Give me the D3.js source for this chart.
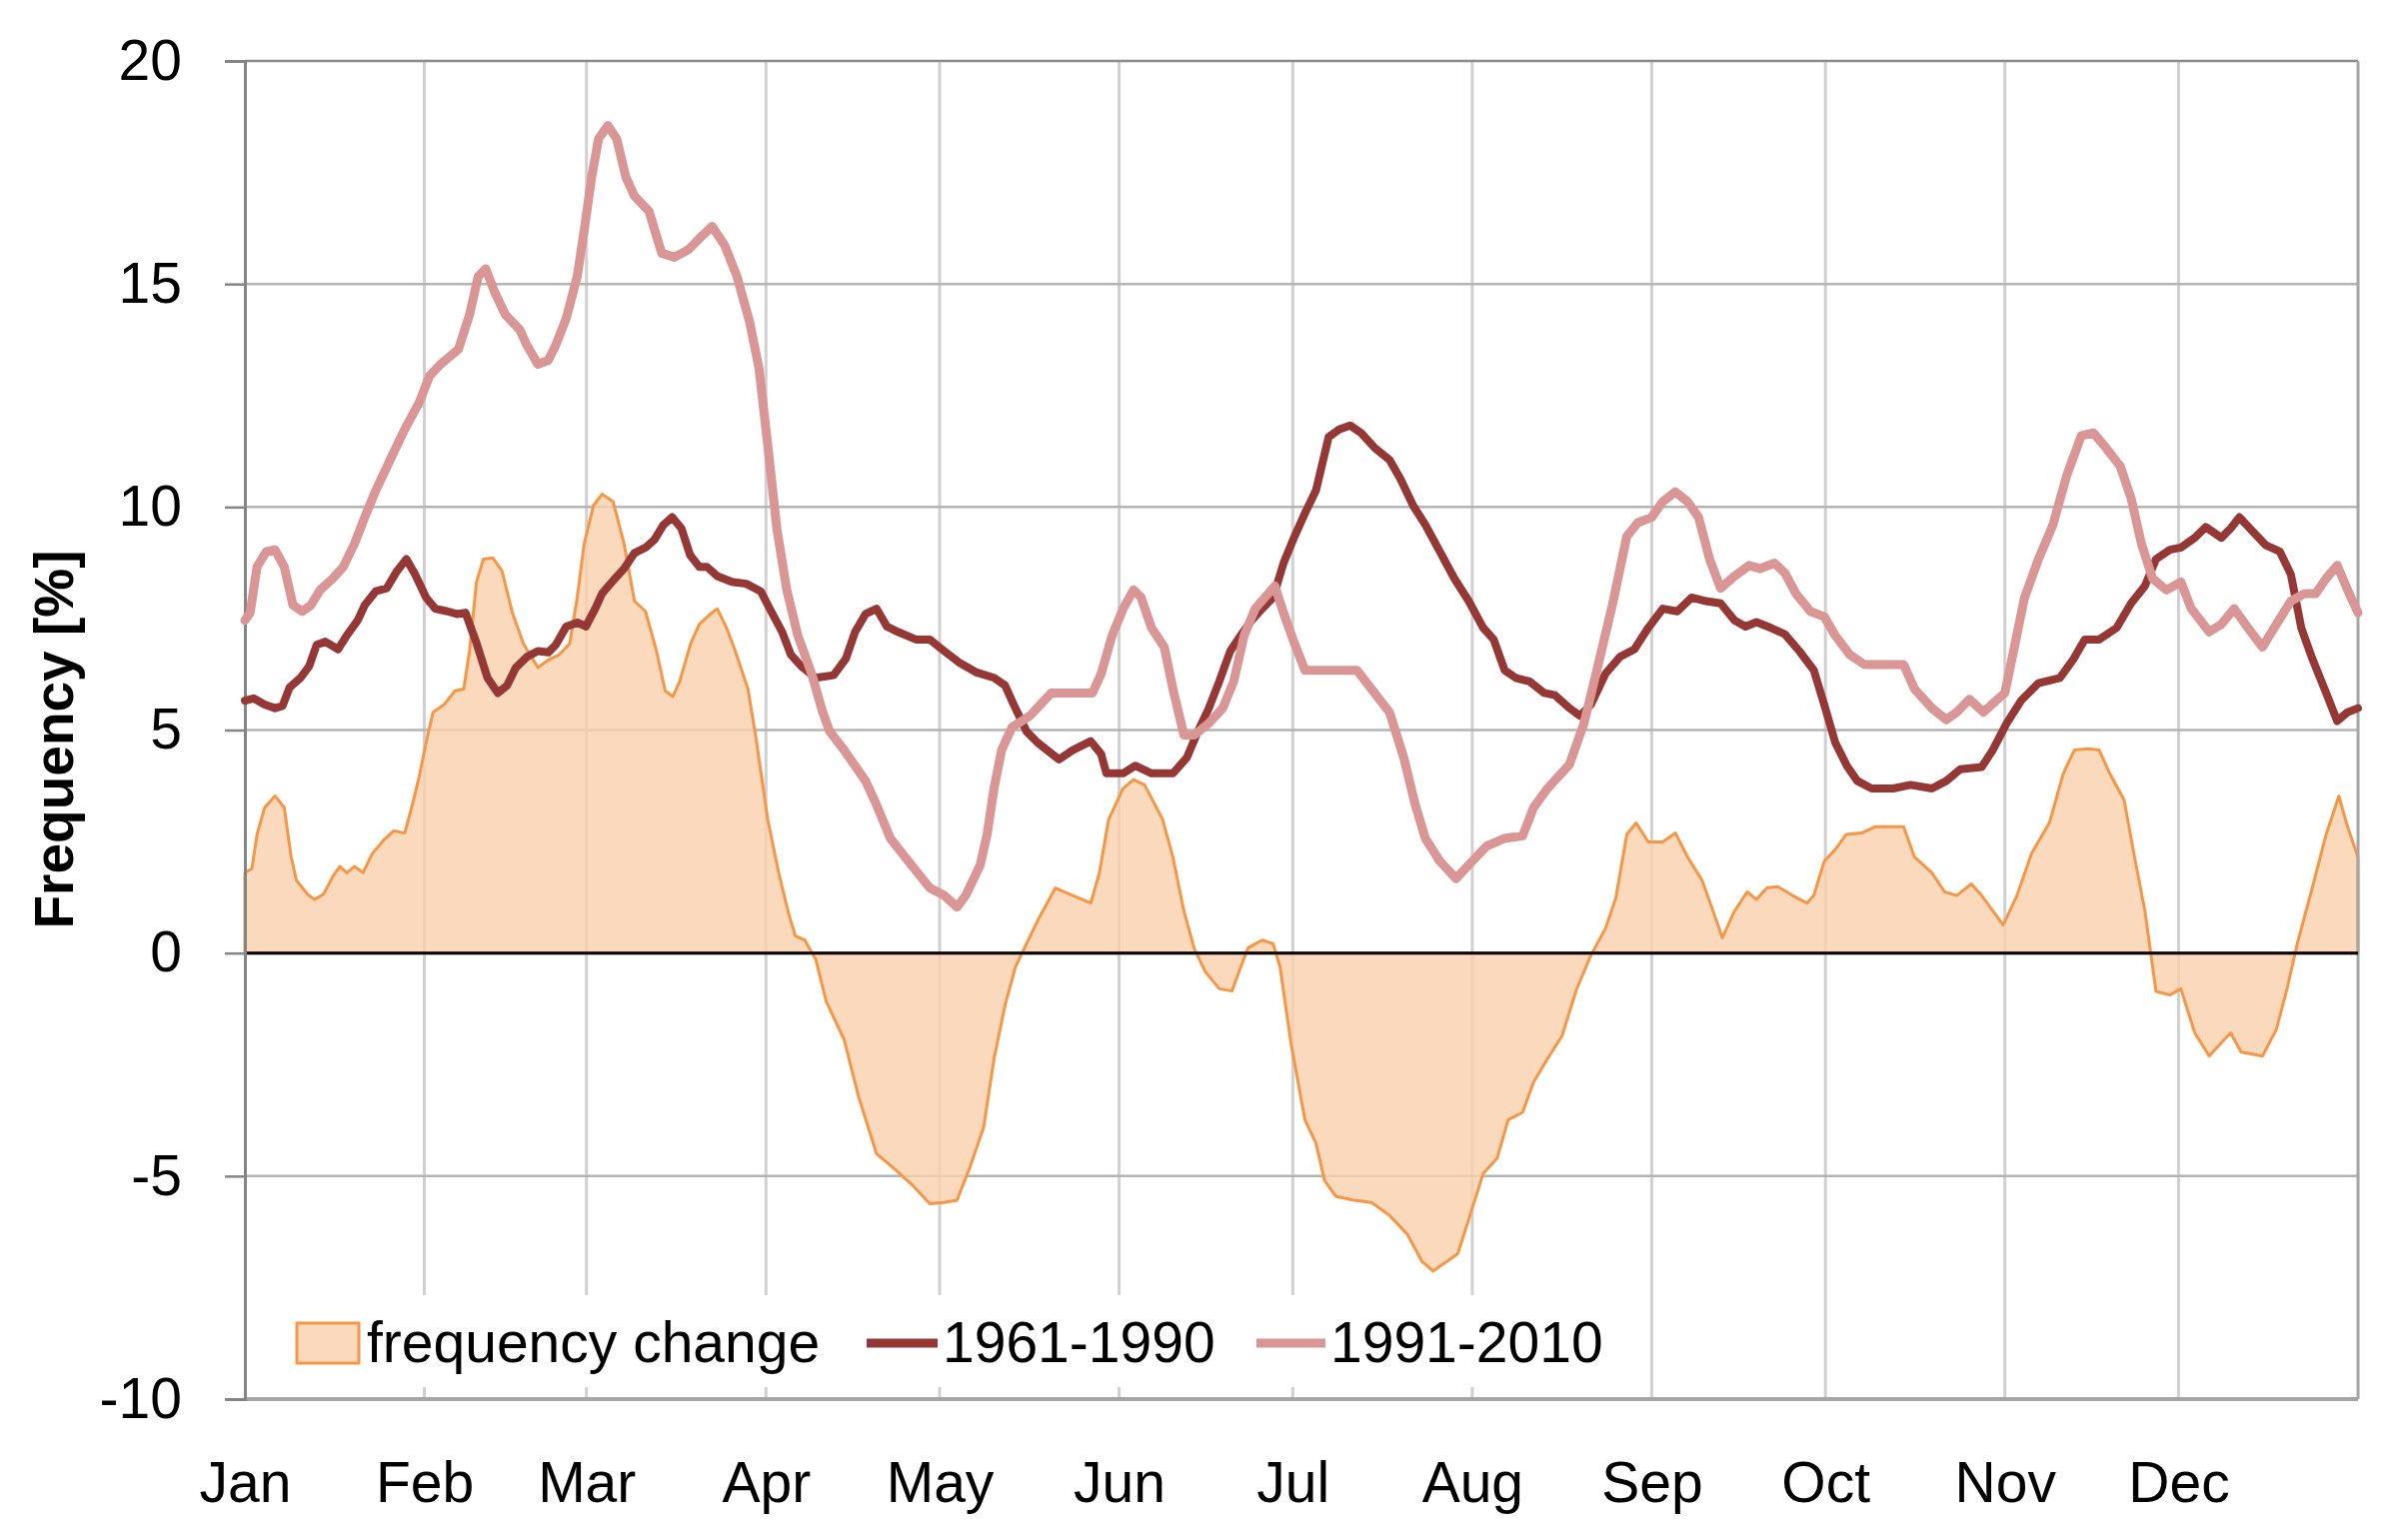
<!DOCTYPE html>
<html>
<head>
<meta charset="utf-8">
<script src="https://cdn.jsdelivr.net/npm/d3@7"></script>
<style>
html,body{margin:0;padding:0;background:#fff;}
svg{display:block;}
text{font-family:"Liberation Sans",Arial,sans-serif;fill:#000;}
</style>
</head>
<body>
<svg id="chart" width="2397" height="1541"></svg>
<script>
// ---- data ----
const monthNames = ["Jan","Feb","Mar","Apr","May","Jun","Jul","Aug","Sep","Oct","Nov","Dec"];
const monthStartDays = [0,31,59,90,120,151,181,212,243,273,304,334];
const yTicks = [-10,-5,0,5,10,15,20];

const daysChg = [0,1.2,2.1,3.4,5.2,6.8,8,8.9,10.8,12,13.6,15.2,16.4,17.6,18.9,20.4,22,23.9,25.7,27.6,28.8,30.1,31.3,32.5,34.4,36.3,37.8,38.8,40,41.2,42.8,44.4,46.2,48.1,50.6,52.4,54.3,56.1,57.4,58.6,60.2,61.7,63.6,65.5,67.3,69.2,71.1,72.6,73.9,75.1,77,78.5,80.4,81.6,83.2,84.7,86.9,88.4,90.3,92.2,93.9,95.1,96.7,98.6,100.4,103.5,106,109.1,111.5,115.2,118.3,120.8,123,125.1,127.6,129.4,131.3,133.1,135,136.9,140,143,146.1,147.6,149.2,151.7,153.5,155.4,158.5,160.3,162.2,164,165.9,168.3,170.5,171.7,173.3,175.7,177.6,178.8,180.7,183.1,185,186.5,188.4,191.5,194.6,197.7,200.8,203.3,205.2,207.7,209.5,211.4,213.9,216.3,218.2,220.7,222.6,225,227.5,230,232.5,235,236.8,238.7,240.3,242.4,244.9,247.1,249.2,251.7,253.6,255.2,257.3,259.5,261.1,262.9,264.8,267.3,269.8,271,272.8,274.7,276.6,279.2,281.6,286.5,288.4,291.4,293.6,295.7,298.2,300,303.7,306.1,308.6,311.7,314.1,316,318.4,320.3,322.1,324.6,326.4,328.2,330.1,332.5,334.4,336.8,339.3,341.1,343,344.8,348.5,350.9,352.8,354.6,357.1,359.5,361.7,363.2,365];
const chg = [1.8,1.89,2.66,3.26,3.52,3.26,2.15,1.63,1.32,1.2,1.32,1.72,1.94,1.8,1.94,1.8,2.23,2.52,2.74,2.69,3.26,3.95,4.72,5.4,5.57,5.88,5.92,6.77,8.32,8.83,8.86,8.57,7.63,6.94,6.4,6.57,6.69,6.94,7.97,9.17,10.03,10.29,10.12,9.17,7.89,7.66,6.77,5.88,5.75,6.09,6.94,7.37,7.6,7.72,7.29,6.77,5.92,4.72,3.0,1.8,0.89,0.38,0.29,-0.14,-1.08,-1.94,-3.22,-4.5,-4.76,-5.19,-5.62,-5.59,-5.54,-4.85,-3.91,-2.37,-1.17,-0.31,0.21,0.72,1.46,1.29,1.12,1.8,3.0,3.69,3.89,3.77,3.0,2.15,0.94,0.09,-0.42,-0.8,-0.85,-0.42,0.12,0.29,0.21,-0.31,-2.03,-3.74,-4.26,-5.1,-5.45,-5.54,-5.59,-5.88,-6.31,-6.91,-7.13,-6.91,-6.74,-5.97,-4.94,-4.6,-3.74,-3.57,-2.89,-2.37,-1.86,-0.82,-0.05,0.55,1.23,2.66,2.92,2.49,2.49,2.69,2.15,1.63,0.94,0.34,0.94,1.37,1.2,1.46,1.49,1.29,1.12,1.29,2.06,2.32,2.66,2.69,2.83,2.83,2.15,1.8,1.37,1.29,1.55,1.29,0.63,1.29,2.23,2.92,4.03,4.55,4.58,4.55,4.03,3.43,2.15,0.94,-0.86,-0.94,-0.8,-1.79,-2.31,-2.05,-1.79,-2.22,-2.31,-1.71,-0.77,0.26,1.46,2.66,3.52,2.83,2.15];

const days61 = [0,1.5,3.4,5.2,6.5,7.7,9.6,11.1,12.4,13.9,16.1,17.6,19.5,20.7,22.6,24.5,26.3,27.9,29.4,31.3,32.9,35,36.6,38.1,40,41.9,43.7,45.3,46.8,48.7,50.6,52.4,53.7,55.5,57.4,58.9,60.5,61.7,63.6,65.5,67.3,69.2,70.7,72.3,73.8,75.4,76.9,78.5,79.8,81.6,84.1,86.6,89.1,90.9,92.8,94.3,96.1,98.6,101.7,103.8,105.4,107.2,109.1,110.9,112.8,115.9,118.3,120.8,123.3,126.4,129.4,131.3,132.8,135,136.9,140.6,143,146.1,147.9,148.8,151.7,153.8,156.6,160.3,162.7,164.6,166.5,168.3,170.2,172,173.9,175.7,177.6,179.4,181.3,183.1,185,187.2,189,190.9,192.8,195.2,197.7,199.6,201.8,203.9,206.4,208.9,211.4,213.9,215.7,217.6,219.5,221.9,224.4,226.3,228.8,230.6,232.5,235,237.5,240,242.4,244.9,247.4,249.9,252.4,254.9,257.3,259.2,261.1,263.6,266,268.5,271,272.8,274.7,276.7,278.5,281,284.7,287.7,291.4,293.9,296.3,300,301.9,304.3,306.8,309.8,313.5,315.9,317.8,320.3,323.3,325.8,328.2,330.1,332.5,334.4,336.8,338.7,341.4,343,344.5,346.6,349.1,351.5,353.4,355.2,357.1,359.5,361.4,363.2,365];
const v61 = [5.66,5.71,5.57,5.49,5.54,5.95,6.17,6.43,6.91,6.98,6.81,7.12,7.46,7.8,8.11,8.18,8.57,8.83,8.49,7.97,7.72,7.66,7.6,7.63,6.95,6.17,5.83,6.0,6.4,6.64,6.77,6.74,6.91,7.32,7.41,7.32,7.72,8.06,8.35,8.62,8.97,9.09,9.26,9.6,9.77,9.52,8.92,8.66,8.66,8.45,8.32,8.28,8.11,7.66,7.2,6.69,6.43,6.17,6.23,6.6,7.2,7.6,7.72,7.32,7.2,7.03,7.03,6.77,6.52,6.29,6.17,6.0,5.57,4.97,4.72,4.34,4.55,4.75,4.46,4.03,4.03,4.2,4.03,4.03,4.38,4.97,5.49,6.09,6.77,7.12,7.46,7.72,7.97,8.74,9.34,9.86,10.37,11.57,11.74,11.83,11.66,11.32,11.06,10.63,10.03,9.6,9.0,8.4,7.89,7.29,7.03,6.34,6.17,6.09,5.83,5.78,5.49,5.32,5.57,6.26,6.64,6.81,7.29,7.72,7.66,7.97,7.89,7.84,7.46,7.32,7.42,7.29,7.15,6.77,6.34,5.57,4.72,4.2,3.86,3.69,3.69,3.77,3.69,3.86,4.12,4.17,4.55,5.15,5.66,6.05,6.17,6.6,7.03,7.03,7.29,7.84,8.23,8.83,9.04,9.09,9.31,9.55,9.31,9.52,9.77,9.48,9.14,9.0,8.49,7.29,6.6,5.83,5.2,5.4,5.49];

const days91 = [0,0.9,2.1,3.7,5.2,6.8,8.3,9.9,11.4,13,15.2,17,18.9,20.7,22.6,25.1,27.6,30.1,31.9,33.8,36.9,38.8,40.3,41.6,43.1,45,47.5,48.7,50.6,52.4,53.7,55.5,57.4,58.6,59.9,61.1,62.7,64.2,65.8,67.3,69.8,72,74.2,76.6,78.8,80.7,82.9,85,87.2,88.8,90.3,91.9,93.6,95.5,97.9,99.8,101,103.5,107.2,109,111.5,114.6,118.3,120.8,123,124.5,127,128.2,129.4,130.7,132.5,135.6,139.3,143,146.4,147.9,149.8,151.7,153.5,154.8,156.6,158.8,160.3,162.2,164,166.5,168.9,170.8,172.6,174.5,177.9,179.4,181.3,183.1,186,192.1,194.6,197.7,200.2,202.1,203.9,206.4,209.2,212,214.5,217.6,220.7,222.6,225,228.8,231.3,233.7,236.2,238.7,240.6,243,244.9,247.1,249.2,251.1,253,254.9,257.3,259.8,261.7,264.2,266,267.9,270.4,272.8,274.7,277.2,279.7,286.5,288.4,291.4,293.9,295.7,297.9,300.3,302.5,304,305.5,307.4,309.8,312.3,314.7,317.2,319.3,321.5,323.9,325.8,327.6,329.5,331.9,334.4,336.2,339.3,341.4,343.6,346,348.5,350.9,353.4,355.8,357.7,359.5,361.4,363.2,365];
const v91 = [7.46,7.63,8.66,9.0,9.04,8.66,7.8,7.66,7.8,8.14,8.4,8.66,9.17,9.77,10.37,11.06,11.74,12.34,12.94,13.2,13.54,14.31,15.17,15.34,14.83,14.31,13.97,13.63,13.2,13.29,13.63,14.23,15.17,16.2,17.4,18.26,18.55,18.26,17.4,16.97,16.63,15.69,15.6,15.77,16.06,16.29,15.86,15.17,14.14,13.11,11.4,9.5,8.14,7.12,6.26,5.4,4.97,4.55,3.86,3.35,2.57,2.06,1.46,1.29,1.03,1.29,1.97,2.66,3.69,4.55,5.06,5.32,5.83,5.83,5.83,6.26,7.12,7.72,8.14,7.97,7.29,6.86,5.92,4.89,4.89,5.15,5.49,6.09,7.12,7.72,8.23,7.63,6.94,6.34,6.34,6.34,5.92,5.4,4.37,3.35,2.57,2.06,1.67,2.06,2.4,2.57,2.63,3.26,3.69,4.23,5.15,6.43,7.8,9.34,9.65,9.77,10.12,10.34,10.12,9.77,8.83,8.18,8.45,8.69,8.62,8.74,8.52,8.06,7.66,7.54,7.12,6.69,6.47,6.47,5.92,5.49,5.23,5.4,5.69,5.4,5.66,5.83,6.77,7.97,8.83,9.6,10.71,11.6,11.66,11.32,10.92,10.2,9.17,8.4,8.14,8.32,7.72,7.2,7.37,7.72,7.29,6.86,7.37,7.89,8.06,8.06,8.4,8.69,8.14,7.63];

const legendLabels = ["frequency change","1961-1990","1991-2010"];

// ---- layout ----
const W = 2397, H = 1541;
const L = 245, R = 2359, T = 61, B = 1400;
const FS = 57;

const svg = d3.select("#chart");
svg.append("rect").attr("width",W).attr("height",H).attr("fill","#fff");

const x = d3.scaleLinear().domain([0,365]).range([L,R]);
const y = d3.scaleLinear().domain([-10,20]).range([B,T]);

const C61 = "#953735", C91 = "#D99694", CSTROKE = "#F79646";

// vertical gridlines (month starts)
svg.append("g").selectAll("line").data(monthStartDays.slice(1)).join("line")
  .attr("x1",d=>x(d)).attr("x2",d=>x(d)).attr("y1",T).attr("y2",B)
  .attr("stroke","#D0D0D0").attr("stroke-width",3);

// horizontal gridlines
svg.append("g").selectAll("line").data(yTicks.filter(t=>t!==-10 && t!==0 && t!==20)).join("line")
  .attr("x1",L).attr("x2",R).attr("y1",d=>y(d)).attr("y2",d=>y(d))
  .attr("stroke","#B4B4B4").attr("stroke-width",2.5);
// top line
svg.append("line").attr("x1",L).attr("x2",R).attr("y1",y(20)).attr("y2",y(20))
  .attr("stroke","#8C8C8C").attr("stroke-width",2.5);

// area (frequency change)
const chgData = daysChg.map((d,i)=>({d, v:chg[i]}));
const area = d3.area().x(p=>x(p.d)).y0(y(0)).y1(p=>y(p.v));
svg.append("path").datum(chgData).attr("d",area)
  .attr("fill","#FAD0AC").attr("fill-opacity",0.8)
  .attr("stroke",CSTROKE).attr("stroke-width",3).attr("stroke-linejoin","round");

// right border & bottom axis
svg.append("line").attr("x1",R).attr("x2",R).attr("y1",T).attr("y2",B)
  .attr("stroke","#A6A6A6").attr("stroke-width",3);
svg.append("line").attr("x1",L).attr("x2",R).attr("y1",B).attr("y2",B)
  .attr("stroke","#A6A6A6").attr("stroke-width",4);

// zero line
svg.append("line").attr("x1",L).attr("x2",R).attr("y1",y(0)).attr("y2",y(0))
  .attr("stroke","#000").attr("stroke-width",3);

// y axis
const yAxis = d3.axisLeft(y).tickValues(yTicks).tickSize(20).tickPadding(43).tickFormat(d=>String(d));
const ga = svg.append("g").attr("transform",`translate(${L},0)`).call(yAxis);
ga.select(".domain").attr("stroke","#858585").attr("stroke-width",3);
ga.selectAll(".tick line").attr("stroke","#858585").attr("stroke-width",2.5);
ga.selectAll(".tick text").attr("font-size",FS).attr("font-family","Liberation Sans, Arial, sans-serif").attr("fill","#000");

// x axis month labels
const xAxis = d3.axisBottom(x).tickValues(monthStartDays).tickSize(0).tickPadding(0)
  .tickFormat((d,i)=>monthNames[i]);
const gx = svg.append("g").attr("transform",`translate(0,${B})`).call(xAxis);
gx.select(".domain").remove();
gx.selectAll(".tick text").attr("font-size",FS).attr("font-family","Liberation Sans, Arial, sans-serif")
  .attr("fill","#000").attr("dy",null).attr("y",103);

// lines
const line = d3.line().x(p=>x(p.d)).y(p=>y(p.v));
svg.append("path").datum(days61.map((d,i)=>({d,v:v61[i]}))).attr("d",line)
  .attr("fill","none").attr("stroke",C61).attr("stroke-width",8).attr("stroke-linejoin","round").attr("stroke-linecap","round");
svg.append("path").datum(days91.map((d,i)=>({d,v:v91[i]}))).attr("d",line)
  .attr("fill","none").attr("stroke",C91).attr("stroke-width",9).attr("stroke-linejoin","round").attr("stroke-linecap","round");

// y label
svg.append("text").attr("transform","translate(73,740) rotate(-90)")
  .attr("text-anchor","middle").attr("font-size",55).attr("font-weight","bold")
  .text("Frequency [%]");

// legend
const lg = svg.append("g");
lg.append("rect").attr("x",282).attr("y",1296).attr("width",1340).attr("height",92).attr("fill","#fff");
lg.append("rect").attr("x",297).attr("y",1324).attr("width",62).attr("height",40)
  .attr("fill","#FAD0AC").attr("fill-opacity",0.8).attr("stroke",CSTROKE).attr("stroke-width",3);
lg.append("text").attr("x",367).attr("y",1363).attr("font-size",FS).text(legendLabels[0]);
lg.append("line").attr("x1",867).attr("x2",938).attr("y1",1344).attr("y2",1344).attr("stroke",C61).attr("stroke-width",9);
lg.append("text").attr("x",943).attr("y",1363).attr("font-size",FS).text(legendLabels[1]);
lg.append("line").attr("x1",1257).attr("x2",1326).attr("y1",1344).attr("y2",1344).attr("stroke",C91).attr("stroke-width",9);
lg.append("text").attr("x",1331).attr("y",1363).attr("font-size",FS).text(legendLabels[2]);
</script>
</body>
</html>
